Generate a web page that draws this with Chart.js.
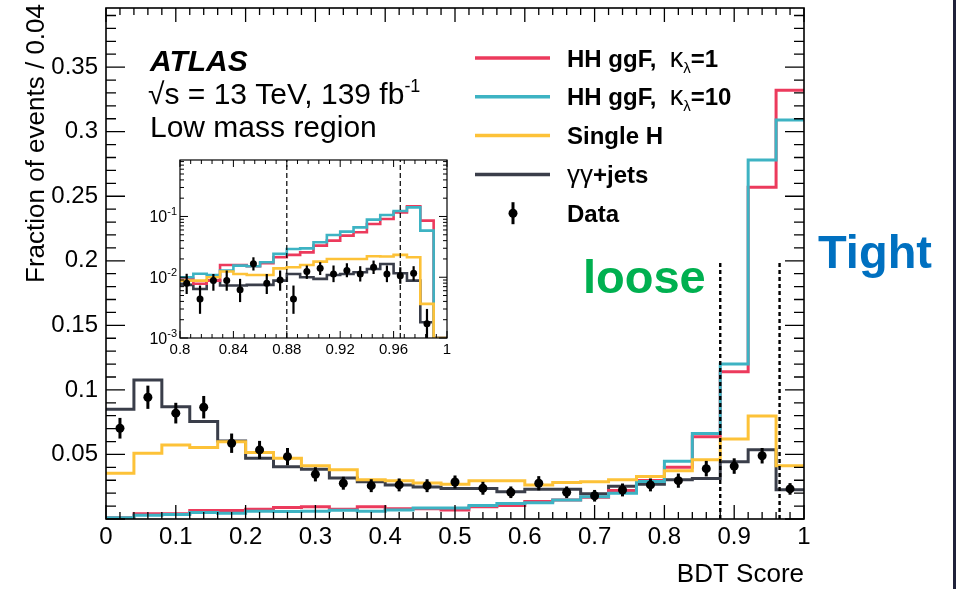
<!DOCTYPE html>
<html>
<head>
<meta charset="utf-8">
<script src="https://cdn.jsdelivr.net/npm/chart.js@4.4.1/dist/chart.umd.min.js"></script>
<style>
  html, body { margin: 0; padding: 0; background: #fff; }
  #wrap { position: relative; width: 956px; height: 589px; overflow: hidden; background: #fff; }
  #main { position: absolute; left: 0; top: 0; }
  #inset { position: absolute; left: 130px; top: 150px; }
  #edge { position: absolute; right: 0; top: 0; width: 3px; height: 589px; background: #20223a; }
</style>
</head>
<body>
<div id="wrap">
  <canvas id="main" width="956" height="589"></canvas>
  <canvas id="inset" width="330" height="215"></canvas>
  <div id="edge"></div>
</div>
<script>
const FONT = "'Liberation Sans', Arial, Helvetica, sans-serif";

// ---- main histogram (bin width 0.04) ----
const mainBinEdges = [0, 0.04, 0.08, 0.12, 0.16, 0.2, 0.24, 0.28, 0.32, 0.36, 0.4, 0.44, 0.48, 0.52,
  0.56, 0.6, 0.64, 0.68, 0.72, 0.76, 0.8, 0.84, 0.88, 0.92, 0.96, 1];
const mainBinCenters = [0.02, 0.06, 0.1, 0.14, 0.18, 0.22, 0.26, 0.3, 0.34, 0.38, 0.42, 0.46, 0.5,
  0.54, 0.58, 0.62, 0.66, 0.7, 0.74, 0.78, 0.82, 0.86, 0.9, 0.94, 0.98];
const hhK1Main = [0.001, 0.004, 0.004, 0.0065, 0.0065, 0.0075, 0.009, 0.0095, 0.0075, 0.0095, 0.008, 0.008,
  0.007, 0.0095, 0.0105, 0.0136, 0.0147, 0.0168, 0.022, 0.0298, 0.040, 0.0637, 0.114, 0.257, 0.332];
const hhK10Main = [0.001, 0.003, 0.0035, 0.005, 0.0045, 0.006, 0.0058, 0.006, 0.0068, 0.006, 0.007, 0.0085,
  0.0085, 0.0105, 0.012, 0.0125, 0.0147, 0.0173, 0.020, 0.029, 0.0447, 0.0663, 0.120, 0.278, 0.309];
const singleHMain = [0.0355, 0.051, 0.0574, 0.0554, 0.0598, 0.0515, 0.0471, 0.0412, 0.0381, 0.0304, 0.0296,
  0.0278, 0.027, 0.0296, 0.0296, 0.0263, 0.0283, 0.0288, 0.0304, 0.033, 0.0373, 0.0458, 0.062, 0.0798, 0.0413];
const yyJetsMain = [0.085, 0.1077, 0.087, 0.0755, 0.0605, 0.047, 0.0404, 0.0386, 0.0317, 0.0288, 0.0263,
  0.0247, 0.0237, 0.0237, 0.0211, 0.023, 0.023, 0.0196, 0.0253, 0.027, 0.0304, 0.0314, 0.0443, 0.0536, 0.0227];
const dataMain = [0.0703, 0.0943, 0.082, 0.0866, 0.0587, 0.0535, 0.0483, 0.0346, 0.0277, 0.0258, 0.0264,
  0.0258, 0.0287, 0.0238, 0.0207, 0.0277, 0.0207, 0.018, 0.0225, 0.0264, 0.0297, 0.039, 0.041, 0.049, 0.0233];
const dataErrMain = [0.008, 0.009, 0.008, 0.0087, 0.0075, 0.007, 0.0067, 0.0055, 0.005, 0.005, 0.005, 0.005,
  0.005, 0.005, 0.0045, 0.0055, 0.0045, 0.0045, 0.005, 0.005, 0.0055, 0.006, 0.006, 0.006, 0.0045];
const mainXTicks = [0, 0.1, 0.2, 0.3, 0.4, 0.5, 0.6, 0.7, 0.8, 0.9, 1];
const mainYTicks = [0.05, 0.1, 0.15, 0.2, 0.25, 0.3, 0.35];
const cutValues = [0.88, 0.965];
const mainCutTop = 0.2;

// ---- inset (bin width 0.01, log scale) ----
const insetBinEdges = [0.8, 0.81, 0.82, 0.83, 0.84, 0.85, 0.86, 0.87, 0.88, 0.89, 0.9, 0.91, 0.92, 0.93,
  0.94, 0.95, 0.96, 0.97, 0.98, 0.99, 1];
const insetBinCenters = [0.805, 0.815, 0.825, 0.835, 0.845, 0.855, 0.865, 0.875, 0.885, 0.895, 0.905,
  0.915, 0.925, 0.935, 0.945, 0.955, 0.965, 0.975, 0.985, 0.995];
const hhK1Inset = [0.0094, 0.0078, 0.0088, 0.0159, 0.0159, 0.0152, 0.017, 0.0213, 0.0233, 0.0257, 0.0331,
  0.0401, 0.0484, 0.055, 0.0753, 0.091, 0.117, 0.147, 0.0855, 0];
const hhK10Inset = [0.010, 0.0114, 0.0109, 0.0129, 0.0155, 0.0152, 0.0176, 0.0242, 0.0292, 0.0299, 0.0376,
  0.0496, 0.0563, 0.0662, 0.0886, 0.106, 0.123, 0.141, 0.0585, 0];
const singleHInset = [0.0088, 0.0088, 0.010, 0.0124, 0.0113, 0.0109, 0.0109, 0.014, 0.0146, 0.0159, 0.0181,
  0.020, 0.020, 0.020, 0.0221, 0.0219, 0.0233, 0.0213, 0.00364, 0];
const yyJetsInset = [0.0075, 0.0064, 0.0088, 0.0073, 0.0073, 0.0075, 0.0075, 0.0088, 0.0113, 0.0100, 0.0094,
  0.0109, 0.0113, 0.0121, 0.0137, 0.0165, 0.0116, 0.0088, 0.00182, 0];
const dataInset = [0.0080, 0.0044, 0.0088, 0.0088, 0.0062, 0.0166, 0.0080, 0.0090, 0.0044, 0.0124, 0.0141,
  0.0113, 0.0129, 0.0113, 0.0146, 0.0113, 0.0106, 0.0116, 0.00171, null];
const dataInsetErrUp = [0.0034, 0.0029, 0.0025, 0.0041, 0.0032, 0.0047, 0.0033, 0.0039, 0.0029, 0.0032,
  0.0036, 0.0043, 0.0041, 0.0039, 0.0042, 0.0043, 0.004, 0.0036, 0.0013, null];
const dataInsetErrDown = [0.0027, 0.0019, 0.0028, 0.0028, 0.0023, 0.0037, 0.0027, 0.003, 0.0019, 0.003,
  0.0032, 0.003, 0.0029, 0.0028, 0.0033, 0.003, 0.0028, 0.0028, 0.0017, null];
const insetXTicks = [0.8, 0.84, 0.88, 0.92, 0.96, 1];
const insetYMin = 0.001, insetYMax = 0.85;

const colors = { red: '#ec3a5c', cyan: '#3db3c3', yellow: '#fdc238', dark: '#3a3e4a' };

// histogram -> points for a stepped line (segment [e_i, e_i+1] at v_i)
function stepPoints(edges, vals, floor) {
  const pts = vals.map((v, i) => ({ x: edges[i], y: Math.max(v, floor) }));
  pts.push({ x: edges[edges.length - 1], y: Math.max(vals[vals.length - 1], floor) });
  return pts;
}
function histSet(label, edges, vals, color, floor, width) {
  return { label, data: stepPoints(edges, vals, floor), borderColor: color, borderWidth: width,
    stepped: true, pointRadius: 0, fill: false };
}
function fmt(v) { return String(Number(v.toFixed(3))); }
// keep chart area exactly where we want it (no extra room for edge labels)
function noPad(s) { s.paddingTop = 0; s.paddingBottom = 0; s.paddingLeft = 0; s.paddingRight = 0; }

function rich(ctx, x, y, segs) {
  segs.forEach(s => {
    ctx.font = s.f;
    ctx.fillText(s.t, x, y + (s.dy || 0));
    x += ctx.measureText(s.t).width;
  });
}

const legendRows = [
  { color: colors.red, segs: [{ t: 'HH ggF,  ', f: 'bold 24px ' + FONT }, { t: 'κ', f: '27px ' + FONT },
    { t: 'λ', f: '15px ' + FONT, dy: 6 }, { t: '=1', f: 'bold 24px ' + FONT }] },
  { color: colors.cyan, segs: [{ t: 'HH ggF,  ', f: 'bold 24px ' + FONT }, { t: 'κ', f: '27px ' + FONT },
    { t: 'λ', f: '15px ' + FONT, dy: 6 }, { t: '=10', f: 'bold 24px ' + FONT }] },
  { color: colors.yellow, segs: [{ t: 'Single H', f: 'bold 24px ' + FONT }] },
  { color: colors.dark, segs: [{ t: 'γγ', f: '26px ' + FONT }, { t: '+jets', f: 'bold 24px ' + FONT }] },
  { data: true, segs: [{ t: 'Data', f: 'bold 24px ' + FONT }] }
];

const mainDecor = {
  id: 'mainDecor',
  afterDatasetsDraw(chart) {
    const { ctx, chartArea: a } = chart;
    const x = chart.scales.x, y = chart.scales.y;
    ctx.save();
    ctx.strokeStyle = '#000';
    // data error bars
    ctx.lineWidth = 3;
    dataMain.forEach((v, i) => {
      const px = x.getPixelForValue(mainBinCenters[i]);
      ctx.beginPath();
      ctx.moveTo(px, y.getPixelForValue(v - dataErrMain[i]));
      ctx.lineTo(px, y.getPixelForValue(v + dataErrMain[i]));
      ctx.stroke();
    });
    // cut lines
    ctx.setLineDash([4, 3]);
    ctx.lineWidth = 2.4;
    cutValues.forEach(c => {
      const px = x.getPixelForValue(c);
      ctx.beginPath();
      ctx.moveTo(px, y.getPixelForValue(0));
      ctx.lineTo(px, y.getPixelForValue(mainCutTop));
      ctx.stroke();
    });
    ctx.setLineDash([]);
    // frame + inward ticks
    ctx.lineWidth = 1.6;
    ctx.strokeRect(a.left, a.top, a.right - a.left, a.bottom - a.top);
    ctx.lineWidth = 1.3;
    ctx.beginPath();
    for (let k = 0; k <= 50; k++) {
      const px = x.getPixelForValue(k * 0.02), L = k % 5 === 0 ? 14 : 7;
      ctx.moveTo(px, a.bottom); ctx.lineTo(px, a.bottom - L);
      ctx.moveTo(px, a.top); ctx.lineTo(px, a.top + L);
    }
    for (let k = 0; k * 0.01 <= y.max; k++) {
      const py = y.getPixelForValue(k * 0.01), L = k % 5 === 0 ? 19 : 10;
      ctx.moveTo(a.left, py); ctx.lineTo(a.left + L, py);
      ctx.moveTo(a.right, py); ctx.lineTo(a.right - L, py);
    }
    ctx.stroke();

    // axis titles
    ctx.fillStyle = '#000';
    ctx.font = '26px ' + FONT;
    ctx.textAlign = 'right';
    ctx.textBaseline = 'alphabetic';
    ctx.fillText('BDT Score', a.right, 582);
    ctx.save();
    ctx.translate(44, 4);
    ctx.rotate(-Math.PI / 2);
    ctx.fillText('Fraction of events / 0.04', 0, 0);
    ctx.restore();

    // labels
    ctx.textAlign = 'left';
    ctx.font = 'italic bold 30px ' + FONT;
    ctx.fillText('ATLAS', 150, 71);
    rich(ctx, 148, 104, [{ t: '√s = 13 TeV, 139 fb', f: '30px ' + FONT }, { t: '-1', f: '18px ' + FONT, dy: -12 }]);
    ctx.font = '30px ' + FONT;
    ctx.fillText('Low mass region', 150, 137);

    ctx.font = 'bold 47px ' + FONT;
    ctx.fillStyle = '#00b050';
    ctx.fillText('loose', 583, 293);
    ctx.fillStyle = '#0070c0';
    ctx.fillText('Tight', 818, 268);

    // legend
    ctx.fillStyle = '#000';
    legendRows.forEach((row, i) => {
      const cy = 58 + i * 38.8;
      if (row.data) {
        ctx.lineWidth = 3;
        ctx.beginPath(); ctx.moveTo(513, cy - 11); ctx.lineTo(513, cy + 11); ctx.stroke();
        ctx.beginPath(); ctx.arc(513, cy, 4.5, 0, Math.PI * 2); ctx.fill();
      } else {
        ctx.strokeStyle = row.color; ctx.lineWidth = 3.5;
        ctx.beginPath(); ctx.moveTo(475, cy); ctx.lineTo(550, cy); ctx.stroke();
        ctx.strokeStyle = '#000';
      }
      rich(ctx, 567, cy + 8.5, row.segs);
    });
    ctx.restore();
  }
};

new Chart(document.getElementById('main'), {
  type: 'line',
  data: {
    datasets: [
      { label: 'Data', data: mainBinCenters.map((c, i) => ({ x: c, y: dataMain[i] })), showLine: false,
        pointRadius: 4.5, pointBackgroundColor: '#000', pointBorderWidth: 0, borderColor: '#000' },
      histSet('Single H', mainBinEdges, singleHMain, colors.yellow, 0, 3),
      histSet('HH ggF k=10', mainBinEdges, hhK10Main, colors.cyan, 0, 3),
      histSet('HH ggF k=1', mainBinEdges, hhK1Main, colors.red, 0, 3),
      histSet('yy+jets', mainBinEdges, yyJetsMain, colors.dark, 0, 3)
    ]
  },
  options: {
    responsive: false,
    animation: false,
    layout: { padding: { left: 0, right: 152, top: 8, bottom: 0 } },
    plugins: { legend: { display: false }, tooltip: { enabled: false } },
    scales: {
      x: {
        type: 'linear', min: 0, max: 1,
        grid: { display: false, drawTicks: false }, border: { display: false },
        afterBuildTicks: s => { s.ticks = mainXTicks.map(v => ({ value: v })); },
        afterFit: s => { s.height = 70; noPad(s); },
        ticks: { padding: 4, color: '#000', maxRotation: 0, autoSkip: false,
          font: { family: FONT, size: 24 }, callback: v => fmt(v) }
      },
      y: {
        type: 'linear', min: 0, max: 0.3958,
        grid: { display: false, drawTicks: false }, border: { display: false },
        afterBuildTicks: s => { s.ticks = mainYTicks.map(v => ({ value: v })); },
        afterFit: s => { s.width = 106; noPad(s); },
        ticks: { padding: 8, color: '#000', autoSkip: false,
          font: { family: FONT, size: 24 }, callback: v => fmt(v) }
      }
    }
  },
  plugins: [mainDecor]
});

const insetDecor = {
  id: 'insetDecor',
  afterDatasetsDraw(chart) {
    const { ctx, chartArea: a } = chart;
    const x = chart.scales.x, y = chart.scales.y;
    ctx.save();
    ctx.strokeStyle = '#000';
    ctx.lineWidth = 2.2;
    dataInset.forEach((v, i) => {
      if (v == null) return;
      const px = x.getPixelForValue(insetBinCenters[i]);
      const lo = Math.max(v - dataInsetErrDown[i], insetYMin);
      ctx.beginPath();
      ctx.moveTo(px, Math.min(y.getPixelForValue(lo), a.bottom));
      ctx.lineTo(px, y.getPixelForValue(v + dataInsetErrUp[i]));
      ctx.stroke();
    });
    ctx.setLineDash([5, 3]);
    ctx.lineWidth = 1.2;
    cutValues.forEach(c => {
      const px = x.getPixelForValue(c);
      ctx.beginPath(); ctx.moveTo(px, a.bottom); ctx.lineTo(px, a.top); ctx.stroke();
    });
    ctx.setLineDash([]);
    ctx.lineWidth = 1.2;
    ctx.strokeRect(a.left, a.top, a.right - a.left, a.bottom - a.top);
    ctx.lineWidth = 1;
    ctx.beginPath();
    for (let k = 0; k <= 25; k++) {
      const px = x.getPixelForValue(0.8 + k * 0.008), L = k % 5 === 0 ? 7 : 4;
      ctx.moveTo(px, a.bottom); ctx.lineTo(px, a.bottom - L);
      ctx.moveTo(px, a.top); ctx.lineTo(px, a.top + L);
    }
    [0.001, 0.01, 0.1].forEach(dec => {
      for (let m = 1; m <= 9; m++) {
        const v = dec * m;
        if (v > insetYMax) break;
        const py = y.getPixelForValue(v), L = m === 1 ? 8 : 4;
        ctx.moveTo(a.left, py); ctx.lineTo(a.left + L, py);
        ctx.moveTo(a.right, py); ctx.lineTo(a.right - L, py);
      }
    });
    ctx.stroke();
    // log labels 10^-n
    ctx.fillStyle = '#000';
    ctx.textAlign = 'right';
    [[0.001, '-3'], [0.01, '-2'], [0.1, '-1']].forEach(([v, e]) => {
      const py = y.getPixelForValue(v);
      ctx.font = '11px ' + FONT;
      const w = ctx.measureText(e).width;
      ctx.fillText(e, a.left - 3, py - 1);
      ctx.font = '16px ' + FONT;
      ctx.fillText('10', a.left - 3 - w, py + 6);
    });
    ctx.restore();
  }
};

new Chart(document.getElementById('inset'), {
  type: 'line',
  data: {
    datasets: [
      { label: 'Data', data: insetBinCenters.map((c, i) => ({ x: c, y: dataInset[i] })), showLine: false,
        pointRadius: 3.5, pointBackgroundColor: '#000', pointBorderWidth: 0, borderColor: '#000' },
      histSet('Single H', insetBinEdges, singleHInset, colors.yellow, insetYMin, 2.6),
      histSet('HH ggF k=10', insetBinEdges, hhK10Inset, colors.cyan, insetYMin, 2.6),
      histSet('HH ggF k=1', insetBinEdges, hhK1Inset, colors.red, insetYMin, 2.6),
      histSet('yy+jets', insetBinEdges, yyJetsInset, colors.dark, insetYMin, 2.6)
    ]
  },
  options: {
    responsive: false,
    animation: false,
    layout: { padding: { left: 0, right: 13, top: 10, bottom: 0 } },
    plugins: { legend: { display: false }, tooltip: { enabled: false } },
    scales: {
      x: {
        type: 'linear', min: 0.8, max: 1,
        grid: { display: false, drawTicks: false }, border: { display: false },
        afterBuildTicks: s => { s.ticks = insetXTicks.map(v => ({ value: v })); },
        afterFit: s => { s.height = 27; noPad(s); },
        ticks: { padding: 3, color: '#000', maxRotation: 0, autoSkip: false,
          font: { family: FONT, size: 15 }, callback: v => fmt(v) }
      },
      y: {
        type: 'logarithmic', min: insetYMin, max: insetYMax,
        grid: { display: false, drawTicks: false }, border: { display: false },
        afterFit: s => { s.width = 50; noPad(s); },
        ticks: { display: false }
      }
    }
  },
  plugins: [insetDecor]
});
</script>
</body>
</html>
